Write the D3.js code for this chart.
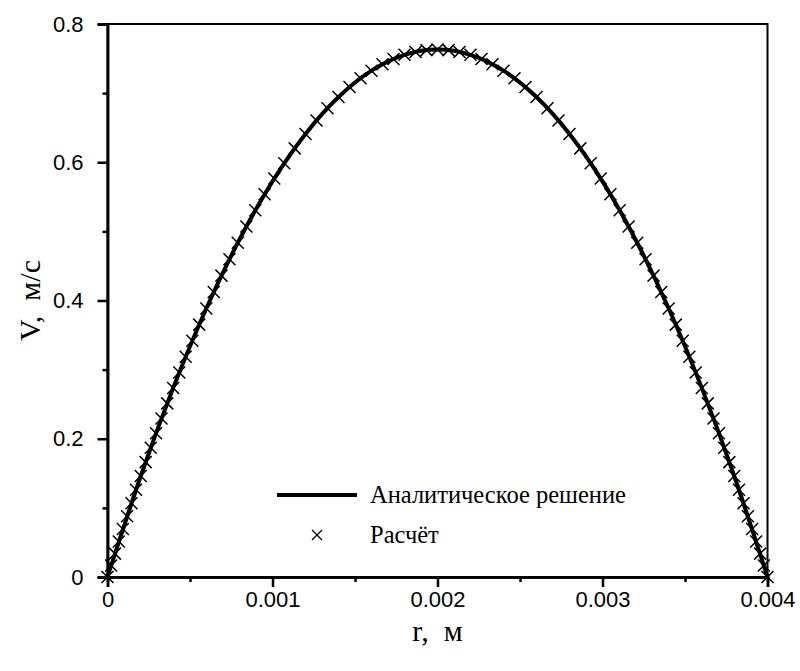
<!DOCTYPE html>
<html>
<head>
<meta charset="utf-8">
<script src="https://cdn.jsdelivr.net/npm/d3@7"></script>
<style>
  body { margin: 0; background: #fff; }
  svg { display: block; }
</style>
</head>
<body>
<div id="container"></div>
<script>
// analytical solution
var analyticR = [0, 0.0002, 0.0004, 0.0006, 0.0008, 0.001, 0.0012, 0.0014, 0.0016, 0.0018, 0.002,
  0.0022, 0.0024, 0.0026, 0.0028, 0.003, 0.0032, 0.0034, 0.0036, 0.0038, 0.004]
var analyticV = [0, 0.1450, 0.2747, 0.3891, 0.4883, 0.5723, 0.6409, 0.6943, 0.7325, 0.7554, 0.763,
  0.7554, 0.7325, 0.6943, 0.6409, 0.5723, 0.4883, 0.3891, 0.2747, 0.1450, 0]

// computed points (markers)
var calcR = [0, 0.0000220, 0.0000448, 0.0000686, 0.0000932, 0.0001188, 0.0001453, 0.0001729, 0.0002015,
  0.0002312, 0.0002621, 0.0002942, 0.0003274, 0.0003620, 0.0003979, 0.0004351, 0.0004738, 0.0005140,
  0.0005557, 0.0005989, 0.0006439, 0.0006906, 0.0007391, 0.0007894, 0.0008417, 0.0008959, 0.0009523,
  0.0010108, 0.0010715, 0.0011346, 0.0012001, 0.0012667, 0.0013333, 0.0014, 0.0014667, 0.0015333,
  0.0016, 0.0016667, 0.0017333, 0.0018, 0.0018667, 0.0019333, 0.002,
  0.0020667, 0.0021333, 0.0022, 0.0022667, 0.0023333, 0.0024, 0.0024667, 0.0025333, 0.0026, 0.0026667,
  0.0027333, 0.0027999, 0.0028654, 0.0029285, 0.0029892, 0.0030477, 0.0031041, 0.0031583, 0.0032106,
  0.0032609, 0.0033094, 0.0033561, 0.0034011, 0.0034443, 0.0034860, 0.0035262, 0.0035649, 0.0036021,
  0.0036380, 0.0036726, 0.0037058, 0.0037379, 0.0037688, 0.0037985, 0.0038271, 0.0038547, 0.0038812,
  0.0039068, 0.0039314, 0.0039552, 0.0039780, 0.004]
var calcV = [0, 0.0167, 0.0338, 0.0514, 0.0695, 0.0880, 0.1068, 0.1262, 0.1460,
  0.1662, 0.1869, 0.2080, 0.2294, 0.2512, 0.2734, 0.2959, 0.3187, 0.3418,
  0.3651, 0.3885, 0.4122, 0.4360, 0.4597, 0.4835, 0.5071, 0.5305, 0.5536,
  0.5764, 0.5986, 0.6201, 0.6410, 0.6604, 0.6782, 0.6943, 0.7088, 0.7215,
  0.7325, 0.7418, 0.7494, 0.7554, 0.7596, 0.7622, 0.763,
  0.7622, 0.7596, 0.7554, 0.7494, 0.7418, 0.7325, 0.7215, 0.7088, 0.6943, 0.6782,
  0.6604, 0.6410, 0.6201, 0.5986, 0.5764, 0.5536, 0.5305, 0.5071, 0.4835,
  0.4597, 0.4360, 0.4122, 0.3885, 0.3651, 0.3418, 0.3187, 0.2959, 0.2734,
  0.2512, 0.2294, 0.2080, 0.1869, 0.1662, 0.1460, 0.1262, 0.1068, 0.0880,
  0.0695, 0.0514, 0.0338, 0.0167, 0]

var xTicks = [0, 0.001, 0.002, 0.003, 0.004]
var xMinor = [0.0005, 0.0015, 0.0025, 0.0035]
var yTicks = [0, 0.2, 0.4, 0.6, 0.8]
var yMinor = [0.1, 0.3, 0.5, 0.7]
var legendLabels = ["Аналитическое решение", "Расчёт"]

var width = 800
var height = 671
var margin = { left: 107.5, right: 32.5, top: 24, bottom: 94 }

var svg = d3.select("#container")
  .append("svg")
  .attr("width", width)
  .attr("height", height)

var x = d3.scaleLinear().domain([0, 0.004]).range([margin.left, width - margin.right])
var y = d3.scaleLinear().domain([0, 0.8]).range([height - margin.bottom, margin.top])

var sans = "'Liberation Sans', Arial, sans-serif"
var serif = "'Liberation Serif', 'Times New Roman', serif"

// frame
svg.append("rect")
  .attr("x", x(0)).attr("y", y(0.8))
  .attr("width", x(0.004) - x(0)).attr("height", y(0) - y(0.8))
  .attr("fill", "none").attr("stroke", "#000").attr("stroke-width", 2)

// axes
svg.append("g")
  .attr("transform", "translate(0," + y(0) + ")")
  .call(d3.axisBottom(x).tickValues(xTicks).tickSize(10).tickPadding(4)
    .tickFormat(function(d) { return d === 0 ? "0" : d3.format(".3f")(d) }))
svg.append("g")
  .attr("transform", "translate(0," + y(0) + ")")
  .call(d3.axisBottom(x).tickValues(xMinor).tickSize(5).tickFormat(""))

svg.append("g")
  .attr("transform", "translate(" + x(0) + ",0)")
  .call(d3.axisLeft(y).tickValues(yTicks).tickSize(10).tickPadding(14)
    .tickFormat(function(d) { return d === 0 ? "0" : d3.format(".1f")(d) }))
svg.append("g")
  .attr("transform", "translate(" + x(0) + ",0)")
  .call(d3.axisLeft(y).tickValues(yMinor).tickSize(5).tickFormat(""))

svg.selectAll(".domain").attr("stroke", "#000").attr("stroke-width", 2.5)
svg.selectAll(".tick line").attr("stroke", "#000").attr("stroke-width", 2.5)
svg.selectAll(".tick text")
  .attr("fill", "#000")
  .style("font-family", sans)
  .style("font-size", "22px")

// axis titles
svg.append("text")
  .attr("x", (x(0) + x(0.004)) / 2)
  .attr("y", 641)
  .attr("text-anchor", "middle")
  .style("font-family", serif)
  .style("font-size", "30px")
  .style("white-space", "pre")
  .text("r,  м")

svg.append("text")
  .attr("transform", "translate(40," + (y(0.4)) + ") rotate(-90)")
  .attr("text-anchor", "middle")
  .style("font-family", serif)
  .style("font-size", "30px")
  .style("white-space", "pre")
  .text("V,  м/с")

// analytical curve
var line = d3.line()
  .x(function(d, i) { return x(analyticR[i]) })
  .y(function(d, i) { return y(analyticV[i]) })
  .curve(d3.curveNatural)

svg.append("path")
  .datum(analyticR)
  .attr("d", line)
  .attr("fill", "none")
  .attr("stroke", "#000")
  .attr("stroke-width", 4)

// markers
var cross = function(s) {
  return "M" + (-s) + "," + (-s) + "L" + s + "," + s + "M" + (-s) + "," + s + "L" + s + "," + (-s)
}

svg.append("g")
  .selectAll("path")
  .data(calcR)
  .enter()
  .append("path")
  .attr("transform", function(d, i) { return "translate(" + x(d) + "," + y(calcV[i]) + ")" })
  .attr("d", cross(6))
  .attr("stroke", "#000")
  .attr("stroke-width", 1.5)
  .attr("fill", "none")

// legend
var legend = svg.append("g")
legend.append("line")
  .attr("x1", 277).attr("x2", 357)
  .attr("y1", 495).attr("y2", 495)
  .attr("stroke", "#000").attr("stroke-width", 4)
legend.append("path")
  .attr("transform", "translate(317,535)")
  .attr("d", cross(5))
  .attr("stroke", "#000").attr("stroke-width", 1.3)
legend.selectAll("text")
  .data(legendLabels)
  .enter()
  .append("text")
  .attr("x", 370)
  .attr("y", function(d, i) { return 503 + i * 40 })
  .style("font-family", serif)
  .style("font-size", "24.5px")
  .text(function(d) { return d })
</script>
</body>
</html>
